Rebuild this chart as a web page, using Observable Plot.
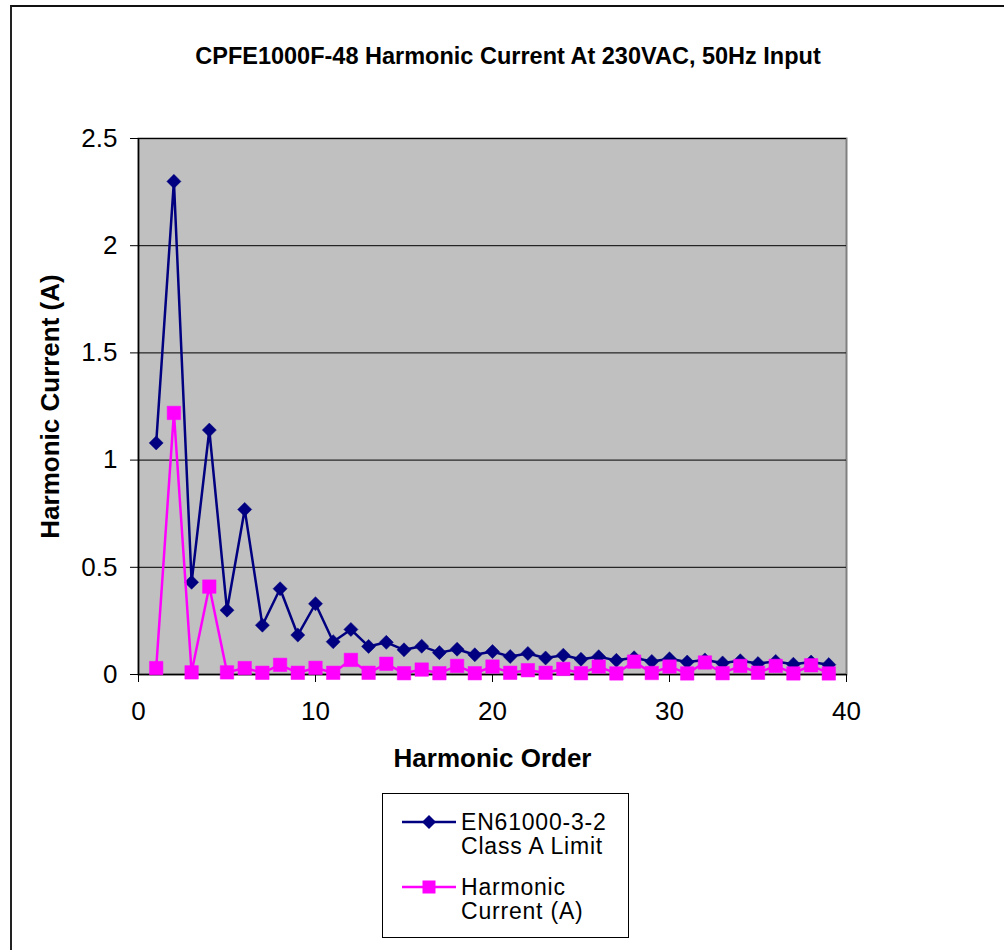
<!DOCTYPE html>
<html>
<head>
<meta charset="utf-8">
<script src="https://cdn.jsdelivr.net/npm/d3@7"></script>
<script src="https://cdn.jsdelivr.net/npm/@observablehq/plot@0.6"></script>
<style>
  html, body { margin: 0; padding: 0; background: #fff; overflow: hidden; }
  #wrap { position: relative; width: 1004px; height: 950px; font-family: "Liberation Sans", Arial, sans-serif; }
  #border { position: absolute; left: 10px; top: 5px; width: 992px; height: 960px;
            border-left: 2px solid #222; border-top: 2px solid #111; border-right: 2px solid #a8a8a8; }
  #title { position: absolute; left: 0; width: 1016px; top: 42px; text-align: center;
           font-weight: bold; font-size: 23.5px; line-height: 28px; color: #000; }
  #legend { position: absolute; left: 382px; top: 793px; width: 245px; height: 143px;
            border: 1px solid #000; background: #fff; }
  .ltext { position: absolute; left: 78px; font-size: 23px; letter-spacing: 0.8px; line-height: 24px; color: #000; white-space: nowrap; }
  #plot { position: absolute; left: 0; top: 0; }
</style>
</head>
<body>
<div id="wrap">
  <div id="border"></div>
  <div id="plot"></div>
  <div id="title"></div>
  <div id="legend"></div>
</div>
<script>
const titleText = "CPFE1000F-48 Harmonic Current At 230VAC, 50Hz Input";
const xLabel = "Harmonic Order";
const yLabel = "Harmonic Current (A)";
const seriesNames = ["EN61000-3-2\nClass A Limit", "Harmonic\nCurrent (A)"];
const xTicks = [0, 10, 20, 30, 40];
const yTicks = [0, 0.5, 1, 1.5, 2, 2.5];

const order = [1,2,3,4,5,6,7,8,9,10,11,12,13,14,15,16,17,18,19,20,21,22,23,24,25,26,27,28,29,30,31,32,33,34,35,36,37,38,39];
const limitA = [1.08,2.30,0.43,1.14,0.30,0.77,0.23,0.40,0.184,0.33,0.153,0.21,0.131,0.15,0.115,0.132,0.102,0.118,0.092,0.107,0.084,0.098,0.077,0.09,0.071,0.083,0.066,0.078,0.061,0.073,0.058,0.068,0.054,0.064,0.051,0.061,0.048,0.058,0.046];
const measured = [0.03,1.22,0.01,0.41,0.01,0.03,0.008,0.045,0.008,0.031,0.008,0.068,0.008,0.05,0.006,0.023,0.006,0.04,0.006,0.037,0.008,0.02,0.008,0.026,0.006,0.037,0.005,0.06,0.007,0.037,0.005,0.056,0.006,0.04,0.008,0.04,0.005,0.043,0.005];

const navy = "#000080", pink = "#FF00FF";
const limitData = order.map((o, i) => ({x: o, y: limitA[i]}));
const measData = order.map((o, i) => ({x: o, y: measured[i]}));

const chart = Plot.plot({
  width: 1004,
  height: 950,
  marginLeft: 138,
  marginRight: 158,
  marginTop: 138,
  marginBottom: 276,
  style: { fontFamily: "Liberation Sans, Arial, sans-serif", background: "transparent", color: "#000" },
  x: { domain: [0, 40] },
  y: { domain: [0, 2.5] },
  marks: [
    Plot.frame({ fill: "#C0C0C0", stroke: "#808080", strokeWidth: 2 }),
    Plot.gridY(yTicks.slice(1), { stroke: "#000", strokeOpacity: 1, strokeWidth: 1 }),
    Plot.ruleX([0], { stroke: "#000", strokeWidth: 1.5 }),
    Plot.ruleY([0], { stroke: "#000", strokeWidth: 1.5 }),
    Plot.axisY(yTicks, { tickSize: 8, tickPadding: 13, fontSize: 26, label: null, tickFormat: d => String(d), stroke: "#000" }),
    Plot.axisX(xTicks, { tickSize: 8, tickPadding: 19, fontSize: 26, label: null, tickFormat: d => String(d), stroke: "#000" }),
    Plot.line(limitData, { x: "x", y: "y", stroke: navy, strokeWidth: 2.5 }),
    Plot.dot(limitData, { x: "x", y: "y", symbol: "square", rotate: 45, r: 5.6, fill: navy, stroke: navy, strokeWidth: 0.5 }),
    Plot.line(measData, { x: "x", y: "y", stroke: pink, strokeWidth: 2.5 }),
    Plot.dot(measData, { x: "x", y: "y", symbol: "square", r: 7.6, fill: pink, stroke: pink, strokeWidth: 0.5 }),
    Plot.text([xLabel], { frameAnchor: "bottom", dy: 84, lineAnchor: "middle", text: d => d, fontSize: 26, fontWeight: "bold", fill: "#000" }),
    Plot.text([yLabel], { frameAnchor: "left", dx: -88, rotate: -90, textAnchor: "middle", lineAnchor: "middle", text: d => d, fontSize: 26, fontWeight: "bold", fill: "#000" })
  ]
});
document.getElementById("plot").appendChild(chart);
document.getElementById("title").textContent = titleText;

// legend
const legend = document.getElementById("legend");
const rows = [
  { name: seriesNames[0], color: navy, sym: "diamond", top: 16 },
  { name: seriesNames[1], color: pink, sym: "square", top: 81 }
];
rows.forEach(r => {
  const svgNS = "http://www.w3.org/2000/svg";
  const svg = document.createElementNS(svgNS, "svg");
  svg.setAttribute("width", 80); svg.setAttribute("height", 24);
  svg.style.position = "absolute"; svg.style.left = "0px"; svg.style.top = (r.top) + "px";
  const ln = document.createElementNS(svgNS, "line");
  ln.setAttribute("x1", 19); ln.setAttribute("x2", 73); ln.setAttribute("y1", 12); ln.setAttribute("y2", 12);
  ln.setAttribute("stroke", r.color); ln.setAttribute("stroke-width", 2.5);
  svg.appendChild(ln);
  const m = document.createElementNS(svgNS, "path");
  if (r.sym === "diamond") m.setAttribute("d", "M46,5 L53,12 L46,19 L39,12 Z");
  else m.setAttribute("d", "M39.5,5.5 H52.5 V18.5 H39.5 Z");
  m.setAttribute("fill", r.color);
  svg.appendChild(m);
  legend.appendChild(svg);
  const t = document.createElement("div");
  t.className = "ltext";
  t.style.top = r.top + "px";
  t.innerHTML = r.name.split("\n").join("<br>");
  legend.appendChild(t);
});
</script>
</body>
</html>
